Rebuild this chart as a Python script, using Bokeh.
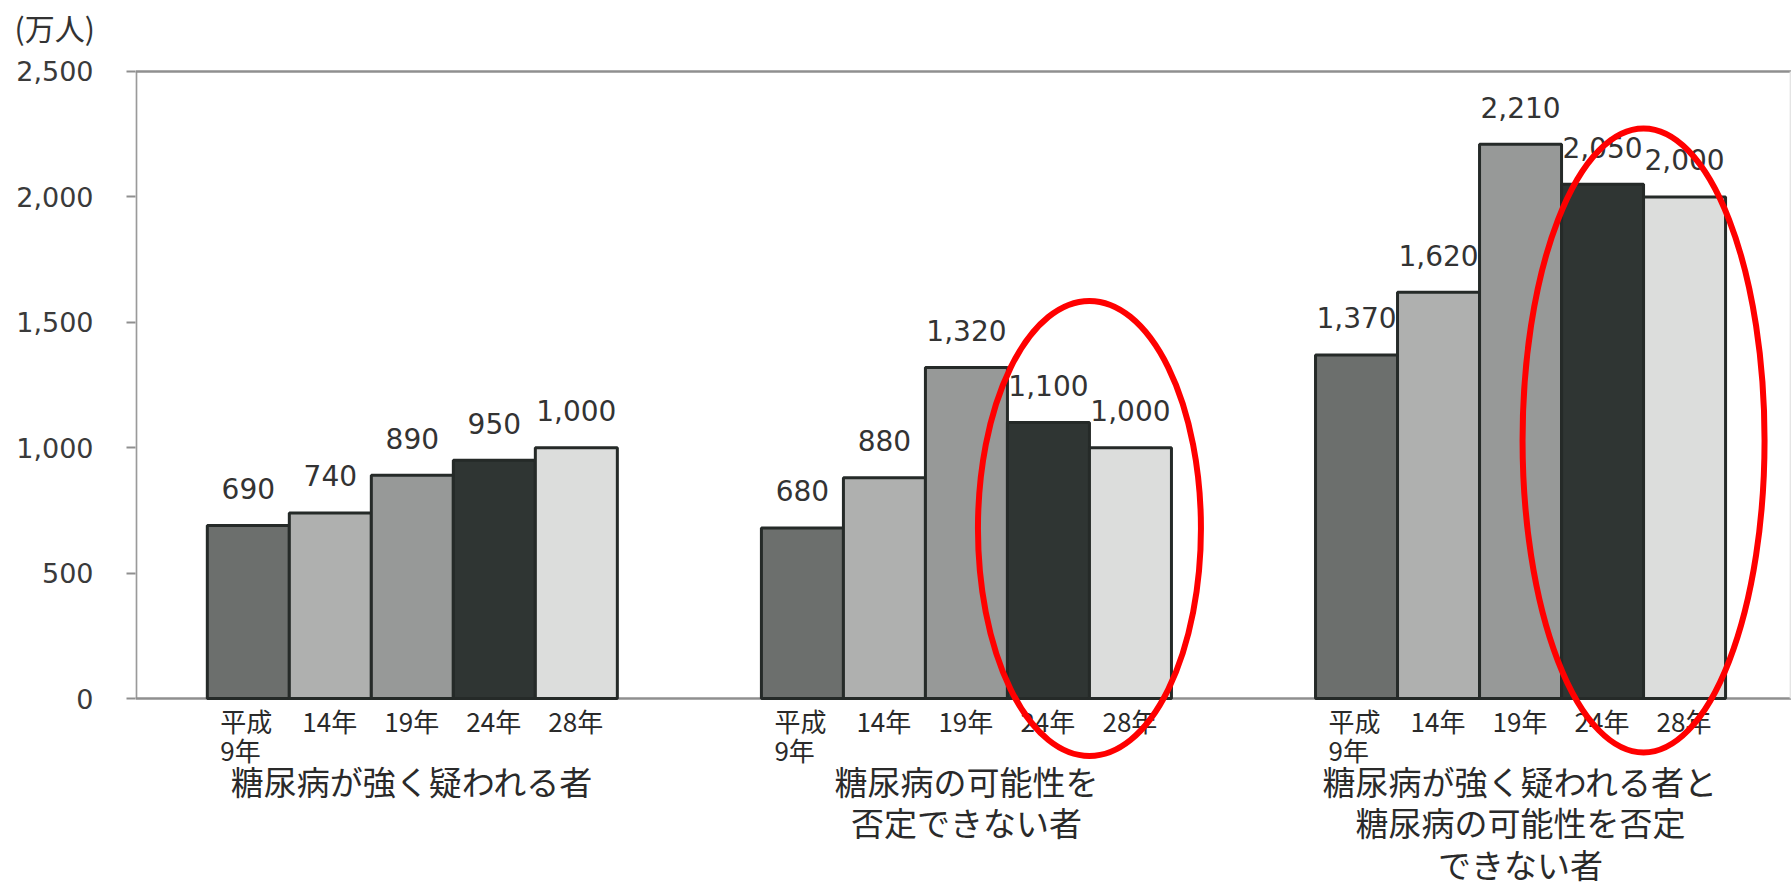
from bokeh.plotting import figure
from bokeh.models import ColumnDataSource, FixedTicker, NumeralTickFormatter, Range1d, Title
from bokeh.core.properties import value
from bokeh.embed import file_html
from bokeh.resources import INLINE

# ---- data ----
groups = ["糖尿病が強く疑われる者", "糖尿病の可能性を\n否定できない者", "糖尿病が強く疑われる者と\n糖尿病の可能性を否定\nできない者"]
years = ["平成\n9年", "14年", "19年", "24年", "28年"]
vals_strong = [690, 740, 890, 950, 1000]
vals_possible = [680, 880, 1320, 1100, 1000]
vals_total = [1370, 1620, 2210, 2050, 2000]
y_ticks = [0, 500, 1000, 1500, 2000, 2500]
unit_label = "(万人)"
highlight_groups = [1, 2]          # groups whose 24年/28年 bars are circled

# ---- styling ----
year_colors = ["#6c6f6d", "#afb0af", "#979998", "#2f3533", "#dcdddc"]
bar_w = 0.148
JP = "Noto Sans CJK JP"
NUM = "DejaVu Sans"

series = [vals_strong, vals_possible, vals_total]
xs, tops, cols, yl, labs = [], [], [], [], []
for gi, vals in enumerate(series):
    for yi, v in enumerate(vals):
        xs.append(gi + (yi - 2) * bar_w)
        tops.append(v)
        cols.append(year_colors[yi])
        yl.append(years[yi])
        labs.append(f"{v:,}")
src = ColumnDataSource(dict(x=xs, top=tops, color=cols, year=yl, lab=labs))

p = figure(width=1791, height=892, output_backend="svg", toolbar_location=None,
           x_axis_type=None, x_range=Range1d(-0.4996, 2.489), y_range=Range1d(-773.5, 2583.7),
           min_border_left=135, min_border_right=0, min_border_top=50, min_border_bottom=0)
p.outline_line_color = None
p.xgrid.visible = False
p.ygrid.visible = False
p.background_fill_color = "white"

# unit label as a left-aligned title above the frame
p.add_layout(Title(text=unit_label, align="left", offset=-121, standoff=4,
                   text_font=JP, text_font_size="30px", text_font_style="normal",
                   text_color="#333333"), "above")

# y axis
ya = p.yaxis[0]
ya.ticker = FixedTicker(ticks=y_ticks)
ya.formatter = NumeralTickFormatter(format="0,0")
ya.axis_line_color = None
ya.major_tick_in = 0
ya.major_tick_out = 9
ya.major_tick_line_color = "#8f8f8f"
ya.major_tick_line_width = 2
ya.minor_tick_line_color = None
ya.major_label_standoff = 33
ya.major_label_text_font = NUM
ya.major_label_text_font_size = "27px"
ya.major_label_text_color = "#3a3a3a"

# frame lines: left axis line, baseline at 0, top line at 2500, right edge
x0, x1 = p.x_range.start, p.x_range.end
p.segment(x0=[x0 + 0.0015], y0=[0], x1=[x0 + 0.0015], y1=[y_ticks[-1]], line_color="#9a9a9a", line_width=2)
p.segment(x0=[x0, x0], y0=[0, y_ticks[-1]], x1=[x1, x1], y1=[0, y_ticks[-1]], line_color="#8f8f8f", line_width=2.5)
p.segment(x0=[x1 - 0.002], y0=[0], x1=[x1 - 0.002], y1=[y_ticks[-1]], line_color="#e4e4e4", line_width=1.5)

# bars
p.vbar(x="x", top="top", bottom=0, width=bar_w, source=src, fill_color="color",
       line_color="#252a28", line_width=3)

# value labels
p.text(x="x", y="top", text="lab", source=src, text_align="center", text_baseline="alphabetic",
       y_offset=-37, text_font=value(NUM), text_font_size="28px", text_color="#333333")

# year labels
p.text(x="x", y=0, text="year", source=src, text_align="left", text_baseline="top",
       x_offset=-28, y_offset=3, text_font=value(JP), text_font_size="26px", text_color="#2a2a2a",
       text_line_height=0.79)

# group labels
gsrc = ColumnDataSource(dict(x=list(range(len(groups))), name=groups))
p.text(x="x", y=0, text="name", source=gsrc, text_align="center", text_baseline="top",
       y_offset=58, text_font=value(JP), text_font_size="33px", text_color="#2a2a2a",
       text_line_height=0.87)

# red ellipses around the 24年/28年 bars
ex = [g + 1.5 * bar_w for g in highlight_groups]
ey = [678, 1029]
p.ellipse(x=ex, y=ey, width=[223, 242], height=[455, 624], width_units="screen", height_units="screen",
          fill_color=None, line_color="#ff0000", line_width=6)

open("out.html", "w").write(file_html(p, INLINE))
